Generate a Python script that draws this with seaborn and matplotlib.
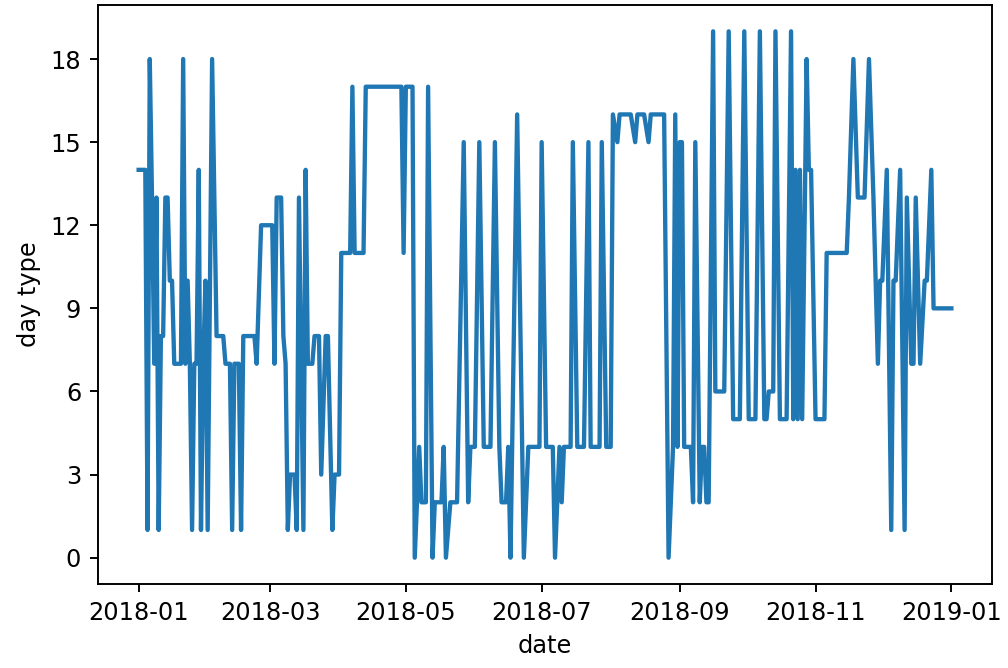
import matplotlib
matplotlib.use("Agg")
import matplotlib.pyplot as plt
import pandas as pd
import seaborn as sns

# Day offsets from 2018-01-01 and the day-type code recorded on that day
day_offset = [
    0, 3, 4, 5, 6, 7, 8, 9, 10, 11, 12, 13, 14, 15, 16, 19, 20, 21, 22, 23,
    24, 25, 26, 27, 28, 29, 30, 31, 33, 35, 38, 39, 41, 42, 43, 45, 46, 47,
    52, 53, 55, 60, 61, 62, 64,
    65, 66, 67, 68, 70, 71, 72, 74, 75, 76, 78, 79, 81, 82, 84, 85, 87, 88,
    90, 91, 95, 96, 97, 101, 102, 118, 119, 120, 123, 124,
    126, 127, 129, 130, 132, 133, 136, 137, 138, 140, 143, 146, 148, 149,
    151, 153, 155, 158, 160, 162, 163, 165, 166, 167, 170, 173, 175, 180,
    181, 183, 186, 187,
    189, 190, 191, 194, 195, 197, 200, 202, 203, 207, 208, 210, 212, 213,
    215, 216, 221, 223, 224, 227, 229, 230, 236, 238, 240, 241, 242, 243,
    244, 245, 248, 249, 250, 252, 253, 254, 255, 256, 258,
    259, 263, 265, 267, 270, 272, 274, 277, 279, 281, 282, 283, 285, 286,
    288, 291, 293, 294, 295, 296, 297, 298, 300, 301, 302, 304, 308, 309,
    318, 319, 321, 323, 326, 328, 330, 331, 332, 333, 334, 336, 338, 339,
    340, 342, 344, 345, 347, 348, 349, 351, 353, 354, 356, 357, 365,
]
day_type = [
    14, 14, 1, 18, 13, 7, 13, 1, 8, 8, 13, 13, 10, 10, 7, 7, 18, 7, 10, 7,
    1, 7, 7, 14, 1, 7, 10, 1, 18, 8, 8, 7, 7, 1, 7, 7, 1, 8,
    8, 7, 12, 12, 7, 13, 13,
    8, 7, 1, 3, 3, 1, 13, 1, 14, 7, 7, 8, 8, 3, 8, 8, 1, 3,
    3, 11, 11, 17, 11, 11, 17, 17, 11, 17, 17, 0,
    4, 2, 2, 17, 0, 2, 2, 4, 0, 2, 2, 15, 2, 4,
    4, 15, 4, 4, 15, 4, 2, 2, 4, 0, 16, 0, 4, 4,
    15, 4, 4, 0,
    4, 2, 4, 4, 15, 4, 4, 15, 4, 4, 15, 4, 4, 16,
    15, 16, 16, 15, 16, 16, 15, 16, 16, 0, 4, 16, 4, 15,
    15, 4, 4, 2, 15, 2, 4, 4, 2, 2, 19,
    6, 6, 19, 5, 5, 19, 5, 5, 19, 5, 5, 6, 6, 19,
    5, 5, 19, 5, 14, 5, 14, 5, 18, 14, 14, 5, 5, 11,
    11, 13, 18, 13, 13, 18, 13, 10, 7, 10, 10, 14, 1, 10,
    10, 14, 1, 13, 7, 7, 13, 7, 10, 10, 14, 9, 9,
]

start = pd.Timestamp("2018-01-01")
df = pd.DataFrame({
    "date": start + pd.to_timedelta(day_offset, unit="D"),
    "day type": day_type,
})

DPI = 173
fig = plt.figure(figsize=(1009 / DPI, 668 / DPI), dpi=DPI)
ax = fig.add_axes([98 / 1009, 84 / 668, 894 / 1009, 579 / 668])

sns.lineplot(data=df, x="date", y="day type", ax=ax, color="#1f77b4",
             linewidth=1.8)
ax.set_yticks(range(0, 19, 3))
ax.set_xlabel("date")
ax.set_ylabel("day type")

fig.savefig("out.png", dpi=DPI)
